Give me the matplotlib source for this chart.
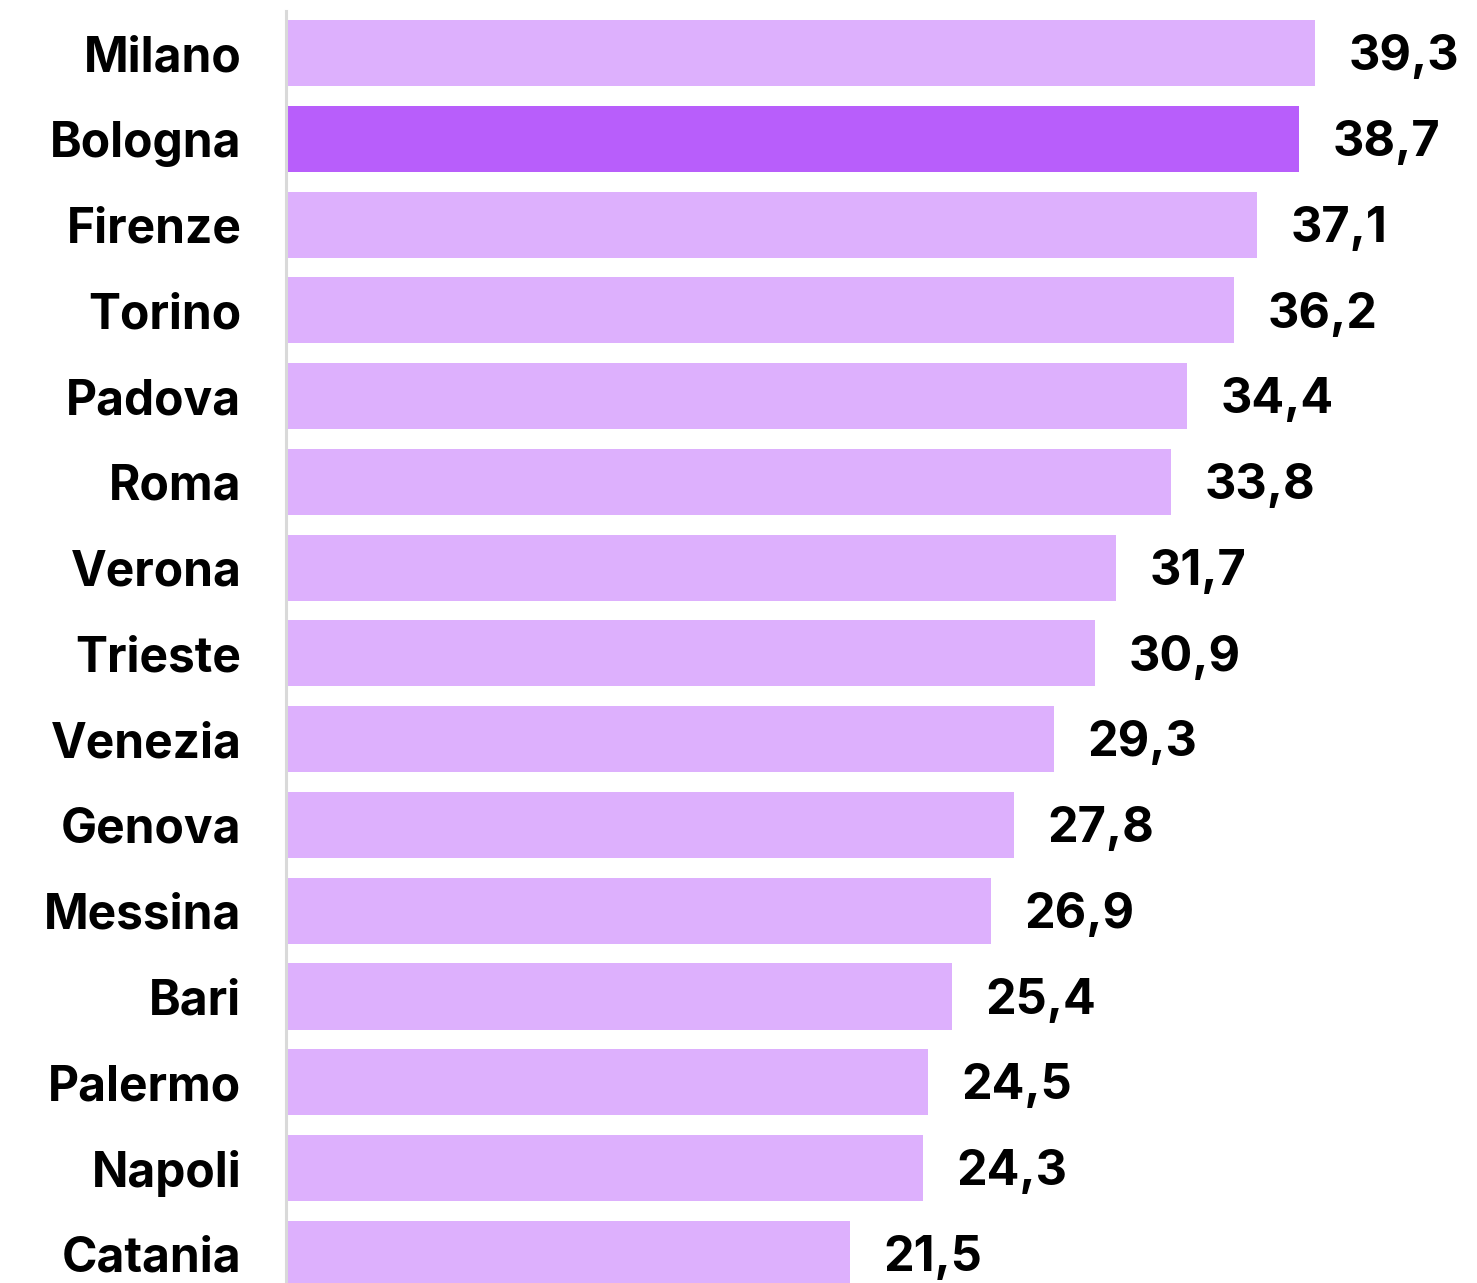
import matplotlib
matplotlib.use("Agg")
import matplotlib.pyplot as plt
from matplotlib.lines import Line2D

cities = ['Milano', 'Bologna', 'Firenze', 'Torino', 'Padova', 'Roma', 'Verona',
          'Trieste', 'Venezia', 'Genova', 'Messina', 'Bari', 'Palermo',
          'Napoli', 'Catania']
values = [39.3, 38.7, 37.1, 36.2, 34.4, 33.8, 31.7, 30.9, 29.3, 27.8, 26.9,
          25.4, 24.5, 24.3, 21.5]
highlight = 'Bologna'

LIGHT = '#ddb0fd'
DARK = '#b85efb'

plt.rcParams['font.family'] = ['Inter', 'DejaVu Sans']

W, H = 1477, 1283
fig = plt.figure(figsize=(W / 100, H / 100), dpi=100)
# axes: x=0 at px 288, top at px 11, bottom at figure edge
ax = fig.add_axes([288 / W, 0, 1 - 288 / W, (H - 11) / H])

ypos = list(range(len(cities)))
colors = [DARK if c == highlight else LIGHT for c in cities]
ax.barh(ypos, values, height=0.77, color=colors)

ax.set_xlim(0, (W - 288) / 26.13)
ax.set_ylim(14.34, -0.49)

for y, v in zip(ypos, values):
    ax.annotate(f'{v:.1f}'.replace('.', ','), (v, y), xytext=(24, -3),
                textcoords='offset points', va='center', ha='left',
                fontsize=35, fontweight='bold', color='black')

ax.set_yticks(ypos)
ax.set_yticklabels(cities, fontsize=34.5, fontweight='bold')
ax.tick_params(axis='y', length=0, pad=33.5)
ax.set_xticks([])
for s in ax.spines.values():
    s.set_visible(False)

# grey baseline just left of the bars
fig.add_artist(Line2D([285.5 / W, 285.5 / W], [0, (H - 11) / H],
                      color='#d9d9d9', linewidth=2.2))

fig.savefig('out.png', dpi=100)
